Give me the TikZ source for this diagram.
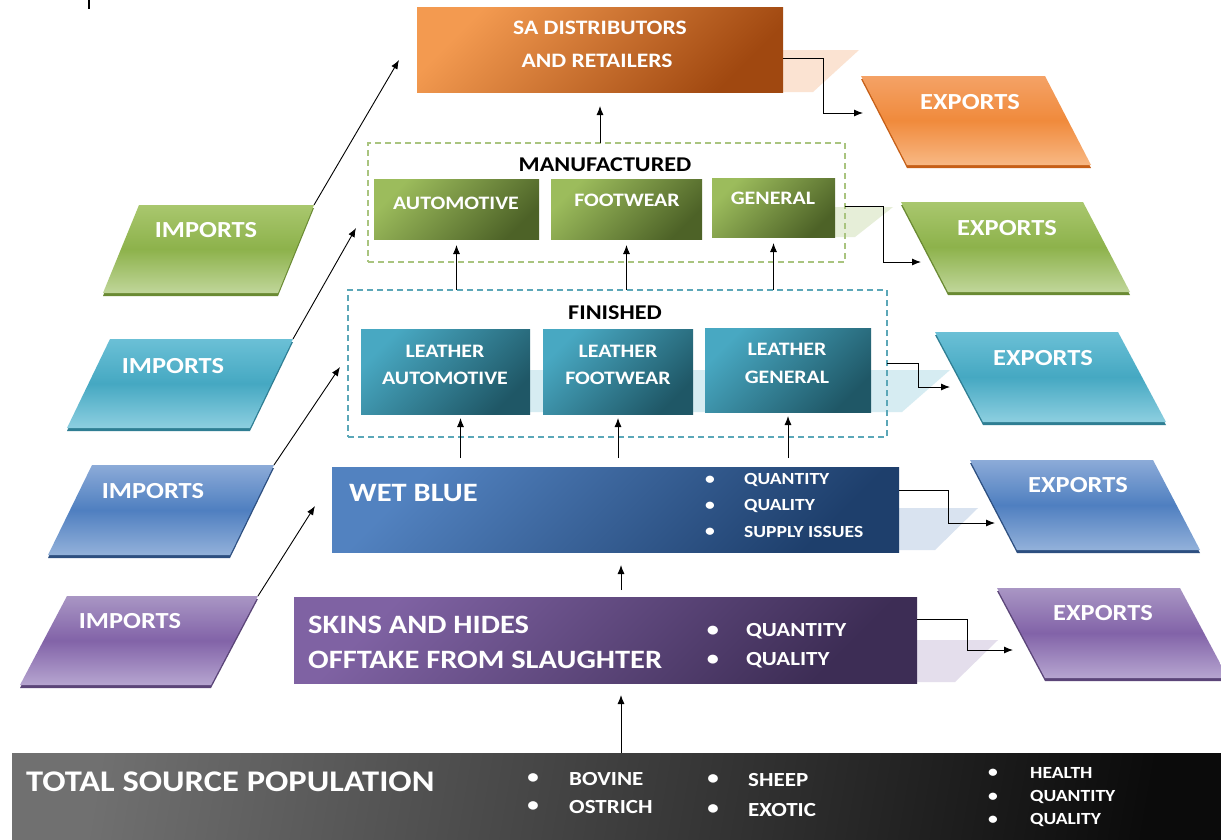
\documentclass[tikz,border=0pt]{standalone}
\usepackage{fontspec}
\setmainfont{Carlito}[FakeStretch=1.15]
\usetikzlibrary{arrows.meta,calc}
% box gradients
\definecolor{oA}{HTML}{F39A50}\definecolor{oB}{HTML}{A04810}
\definecolor{gA}{HTML}{9CBC5C}\definecolor{gB}{HTML}{4D6227}
\definecolor{tA}{HTML}{48A8C2}\definecolor{tB}{HTML}{1F5766}
\definecolor{bA}{HTML}{5282C0}\definecolor{bB}{HTML}{1E3F6C}
\definecolor{vA}{HTML}{7F62A3}\definecolor{vB}{HTML}{3D2D55}
\definecolor{kA}{HTML}{707070}\definecolor{kB}{HTML}{0B0B0B}
% parallelogram gloss
\definecolor{pO1}{HTML}{F4A266}\definecolor{pO2}{HTML}{F08A3C}\definecolor{pO3}{HTML}{F8B884}\definecolor{pOe}{HTML}{C65F17}
\definecolor{pG1}{HTML}{A9C76E}\definecolor{pG2}{HTML}{8DB24B}\definecolor{pG3}{HTML}{C0D69A}\definecolor{pGe}{HTML}{6A8A33}
\definecolor{pT1}{HTML}{6BC0D6}\definecolor{pT2}{HTML}{45A8C2}\definecolor{pT3}{HTML}{8DCFE0}\definecolor{pTe}{HTML}{2F7E93}
\definecolor{pB1}{HTML}{8CABD8}\definecolor{pB2}{HTML}{4F7FC0}\definecolor{pB3}{HTML}{93B1DA}\definecolor{pBe}{HTML}{2D4F80}
\definecolor{pV1}{HTML}{A996C4}\definecolor{pV2}{HTML}{8263A8}\definecolor{pV3}{HTML}{B6A5D0}\definecolor{pVe}{HTML}{5B4578}
% reflections
\definecolor{shO}{HTML}{FBE3D2}\definecolor{shG}{HTML}{E6EED8}\definecolor{shT}{HTML}{D6ECF2}
\definecolor{shB}{HTML}{D9E3F0}\definecolor{shV}{HTML}{E4DEEC}
\definecolor{dashG}{HTML}{A9C47F}\definecolor{dashT}{HTML}{5BA7B8}
\newcommand\fsz[1]{\fontsize{#1}{#1}\selectfont}
\tikzset{
  pgO/.style={top color=pO1, bottom color=pO3, middle color=pO2},
  pgG/.style={top color=pG1, bottom color=pG3, middle color=pG2},
  pgT/.style={top color=pT1, bottom color=pT3, middle color=pT2},
  pgB/.style={top color=pB1, bottom color=pB3, middle color=pB2},
  pgV/.style={top color=pV1, bottom color=pV3, middle color=pV2},
  pgOedge/.style={fill=pOe}, pgGedge/.style={fill=pGe}, pgTedge/.style={fill=pTe},
  pgBedge/.style={fill=pBe}, pgVedge/.style={fill=pVe},
  box/.style 2 args={top color=#1, bottom color=#2, shading angle=45, inner sep=0pt, outer sep=0pt},
  frame/.style={draw=#1, dashed, dash pattern=on 6pt off 4pt, line width=1.1pt, inner sep=0pt, outer sep=0pt},
  lbl/.style={text=white, inner sep=0pt},
  ttl/.style={text=black, inner sep=0pt, font=\bfseries\fsz{21}},
  ptxt/.style={text=white, inner sep=0pt, font=\bfseries\fsz{23}},
  arr/.style={-{Latex[length=9pt,width=7pt]}, line width=0.9pt, black},
}
\newcommand\pgram[7]{%
  \coordinate (#1-tl) at (#2,#4);
  \coordinate (#1-tr) at (#3,#4);
  \coordinate (#1-bl) at ({#2+#6},#5);
  \coordinate (#1-br) at ({#3+#6},#5);
  \fill[#7edge] ([yshift=-3pt]#1-tl) -- ([yshift=-3pt]#1-tr) -- ([yshift=-3pt]#1-br) -- ([yshift=-3pt]#1-bl) -- cycle;
  \shade[#7] (#1-tl) -- (#1-tr) -- (#1-br) -- (#1-bl) -- cycle;
}
\begin{document}
\begin{tikzpicture}[x=1pt,y=-1pt]
\useasboundingbox (0,0) rectangle (1221,839);
\fill[white] (0,0) rectangle (1221,839);
\draw[line width=2.5pt] (89,0) -- (89,9);

% reflections
\fill[shO] (783,50) -- (859,50) -- (813,92) -- (783,92) -- cycle;
\fill[shG] (835,207) -- (893,207) -- (855,237) -- (835,237) -- cycle;
\fill[shT] (361,370) -- (950,370) -- (902,412) -- (361,412) -- cycle;
\fill[shB] (899,508) -- (978,508) -- (935,550) -- (899,550) -- cycle;
\fill[shV] (917,640) -- (998,640) -- (955,682) -- (917,682) -- cycle;

% dashed groups
\node[frame=dashG, minimum width=477pt, minimum height=119pt] (manuf) at (606.5,202.5) {};
\node[frame=dashT, minimum width=539pt, minimum height=147pt] (fin) at (617.5,363.5) {};

% boxes
\node[box={oA}{oB}, minimum width=366pt, minimum height=85pt] (sa) at (600,49.5) {};
\node[box={gA}{gB}, minimum width=165pt, minimum height=60pt] (mAuto) at (456.5,209) {};
\node[box={gA}{gB}, minimum width=151pt, minimum height=60pt] (mFoot) at (626.5,209) {};
\node[box={gA}{gB}, minimum width=123pt, minimum height=59pt] (mGen) at (773.5,207.5) {};
\node[box={tA}{tB}, minimum width=169pt, minimum height=85pt] (lAuto) at (445.5,371.5) {};
\node[box={tA}{tB}, minimum width=150pt, minimum height=85pt] (lFoot) at (618,371.5) {};
\node[box={tA}{tB}, minimum width=166pt, minimum height=84pt] (lGen) at (788,370) {};
\node[box={bA}{bB}, minimum width=567pt, minimum height=85pt] (wb) at (615.5,509.5) {};
\node[box={vA}{vB}, minimum width=623pt, minimum height=86pt] (skins) at (605.5,640) {};
\node[top color=kA, bottom color=kB, shading angle=80, inner sep=0pt, outer sep=0pt,
      minimum width=1218pt, minimum height=92pt] (bar) at (621,799) {};

% texts
\node[lbl, font=\bfseries\fsz{20.5}] (saT1) at (600,28) {SA DISTRIBUTORS};
\node[lbl, font=\bfseries\fsz{20.5}] (saT2) at (597,61) {AND RETAILERS};
\node[ttl] (manufT) at (605,165) {MANUFACTURED};
\node[lbl, font=\bfseries\fsz{19}] (mAutoT) at (456,203) {AUTOMOTIVE};
\node[lbl, font=\bfseries\fsz{19}] (mFootT) at (627,200) {FOOTWEAR};
\node[lbl, font=\bfseries\fsz{19}] (mGenT) at (773,198) {GENERAL};
\node[ttl] (finT) at (615,313) {FINISHED};
\node[lbl, font=\bfseries\fsz{19}] (lAutoT1) at (445,351) {LEATHER};
\node[lbl, font=\bfseries\fsz{19}] (lAutoT2) at (445,378) {AUTOMOTIVE};
\node[lbl, font=\bfseries\fsz{19}] (lFootT1) at (618,351) {LEATHER};
\node[lbl, font=\bfseries\fsz{19}] (lFootT2) at (618,378) {FOOTWEAR};
\node[lbl, font=\bfseries\fsz{19}] (lGenT1) at (787,349) {LEATHER};
\node[lbl, font=\bfseries\fsz{19}] (lGenT2) at (787,377) {GENERAL};

\node[lbl, font=\bfseries\fsz{26.5}, anchor=west] (wbT) at (349,493) {WET BLUE};
\foreach \yy/\tt/\nn in {480/QUANTITY/1,506/QUALITY/2}{
  \node[lbl, font=\bfseries\fsz{17}] (wbD\nn) at (710,\yy) {•};
  \node[lbl, font=\bfseries\fsz{17}, anchor=west] (wbL\nn) at (744,\yy) {\tt};
}
\node[lbl, font=\bfseries\fsz{17}] (wbD3) at (710,532) {•};
\begin{scope}
  \clip (700,515) rectangle (899,538);
  \node[lbl, font=\bfseries\fsz{17}, anchor=west] (wbL3) at (744,532) {SUPPLY ISSUES};
\end{scope}

\node[lbl, font=\bfseries\fsz{26.5}, anchor=west] (skT1) at (308,625) {SKINS AND HIDES};
\node[lbl, font=\bfseries\fsz{26.5}, anchor=west] (skT2) at (308,660) {OFFTAKE FROM SLAUGHTER};
\foreach \yy/\tt/\nn in {631/QUANTITY/1,660/QUALITY/2}{
  \node[lbl, font=\bfseries\fsz{21}] (skD\nn) at (713,\yy) {•};
  \node[lbl, font=\bfseries\fsz{20}, anchor=west] (skL\nn) at (746,\yy) {\tt};
}

\node[lbl, font=\bfseries\fsz{30}, anchor=west] (barT) at (26,782) {TOTAL SOURCE POPULATION};
\foreach \xb/\xt/\yy/\tt/\nn in {533/569/779/BOVINE/1,533/569/807/OSTRICH/2,713/748/780/SHEEP/3,713/748/810/EXOTIC/4}{
  \node[lbl, font=\bfseries\fsz{20}] (barD\nn) at (\xb,\yy) {•};
  \node[lbl, font=\bfseries\fsz{20}, anchor=west] (barL\nn) at (\xt,\yy) {\tt};
}
\foreach \yy/\tt/\nn in {773/HEALTH/5,797/QUANTITY/6,820/QUALITY/7}{
  \node[lbl, font=\bfseries\fsz{17}] (barD\nn) at (993,\yy) {•};
  \node[lbl, font=\bfseries\fsz{17}, anchor=west] (barL\nn) at (1030,\yy) {\tt};
}

% parallelograms
\pgram{impG}{139}{314}{205}{293}{-36}{pgG}
\pgram{impT}{110}{293}{339}{428}{-43}{pgT}
\pgram{impB}{92}{274}{465}{555}{-44}{pgB}
\pgram{impV}{67}{258}{596}{685}{-47}{pgV}
\pgram{expO}{861}{1045}{76}{165}{46}{pgO}
\pgram{expG}{901}{1083}{202}{292}{47}{pgG}
\pgram{expT}{935}{1118}{332}{422}{48}{pgT}
\pgram{expB}{970}{1153}{460}{550}{47}{pgB}
\pgram{expV}{997}{1180}{588}{678}{48}{pgV}
\node[ptxt] (impGt) at (206,230) {IMPORTS};
\node[ptxt] (impTt) at (173,366) {IMPORTS};
\node[ptxt] (impBt) at (153,491) {IMPORTS};
\node[ptxt] (impVt) at (130,621) {IMPORTS};
\node[ptxt] (expOt) at (970,102) {EXPORTS};
\node[ptxt] (expGt) at (1007,228) {EXPORTS};
\node[ptxt] (expTt) at (1043,358) {EXPORTS};
\node[ptxt] (expBt) at (1078,485) {EXPORTS};
\node[ptxt] (expVt) at (1103,613) {EXPORTS};
\coordinate (expO-in) at (863,113);
\coordinate (expG-in) at (921,262);
\coordinate (expT-in) at (950,387);
\coordinate (expB-in) at (995,523);
\coordinate (expV-in) at (1013,650);

% vertical flow arrows
\draw[arr, shorten >=14pt] (manuf.north -| sa.south) -- (sa.south);
\draw[arr, shorten >=6pt] (mAuto.south |- fin.north) -- (mAuto.south);
\draw[arr, shorten >=6pt] (mFoot.south |- fin.north) -- (mFoot.south);
\draw[arr, shorten >=6pt] (mGen.south |- fin.north) -- (mGen.south);
\coordinate (laX) at ($(lAuto.south)+(15,0)$);
\draw[arr, shorten <=9pt, shorten >=4pt] (laX |- wb.north) -- (laX);
\draw[arr, shorten <=9pt, shorten >=4pt] (lFoot.south |- wb.north) -- (lFoot.south);
\draw[arr, shorten <=9pt, shorten >=4pt] (lGen.south |- wb.north) -- (lGen.south);
\draw[arr, shorten <=7pt, shorten >=13pt] (skins.north -| bar.north) -- (wb.south -| bar.north);
\draw[arr, shorten >=12pt] (bar.north) -- (skins.south -| bar.north);

% imports arrows
\draw[arr] (impG-tr) -- ([xshift=-18pt,yshift=-10.5pt]sa.west);
\draw[arr] (impT-tr) -- ([xshift=-12pt,yshift=-25.5pt]manuf.west);
\draw[arr] (impB-tr) -- ([xshift=-8pt,yshift=-3.5pt]fin.west);
\draw[arr] (impV-tr) -- ([xshift=-17pt,yshift=3.5pt]wb.west);

% exports arrows
\draw[arr] ([yshift=-8.5pt]sa.east) -- ++(40,0) |- (expO-in);
\draw[arr] ([yshift=-3.5pt]manuf.east) -- ++(38,0) |- (expG-in);
\draw[arr] (fin.east) -- ++(31,0) |- (expT-in);
\draw[arr] ([yshift=19.5pt]wb.east) -- ++(49,0) |- (expB-in);
\draw[arr] ([yshift=21pt]skins.east) -- ++(50,0) |- (expV-in);
\end{tikzpicture}
\end{document}
